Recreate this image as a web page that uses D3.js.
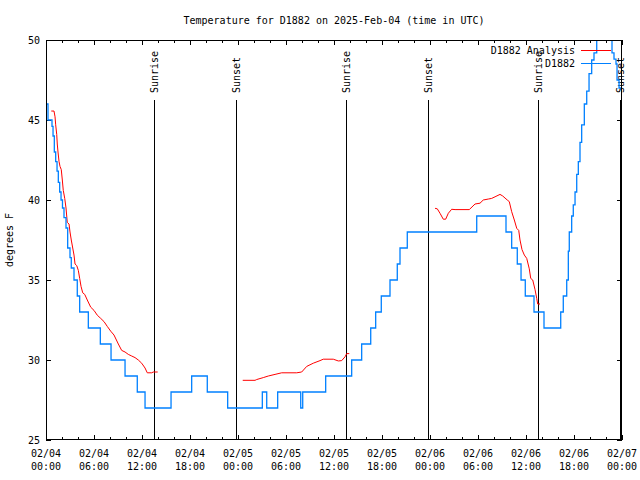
<!DOCTYPE html>
<html><head><meta charset="utf-8">
<script src="https://cdn.jsdelivr.net/npm/d3@7"></script>
<style>
body{margin:0;background:#fff}
svg{display:block}
text{font-family:"DejaVu Sans Mono",monospace;font-size:10px;fill:#000}
</style>
</head><body>
<svg id="c" width="640" height="480"></svg>
<script>
const chartTitle = "Temperature for D1882 on 2025-Feb-04 (time in UTC)";
const yLabel = "degrees F";
const startDate = "2025-02-04T00:00:00Z";
const spanHours = 72;
const yDomain = [25, 50];
const yTicks = [25, 30, 35, 40, 45, 50];

// D1882 observations: hours since 02/04 00:00 UTC, temperature (F)
const obsHours = [0.06,0.25,0.75,0.88,1.04,1.21,1.38,1.54,1.71,1.88,2.06,2.25,2.5,2.71,3.0,3.16,3.5,3.91,4.21,5.29,6.79,8.13,9.88,11.41,12.38,15.63,18.21,20.16,22.71,27.04,27.59,28.96,31.84,32.09,34.96,38.21,39.46,40.59,41.21,41.91,43.0,43.91,44.25,45.16,53.84,57.5,58.21,58.91,59.38,59.91,61.0,62.25,64.34,64.66,65.09,65.29,65.41,65.71,65.91,66.13,66.34,66.54,66.75,66.96,67.29,67.59,67.88,68.21,68.5,68.84,69.0,70.25,70.44,70.75,71.0,71.25,71.38,71.63,72];
const obsTemps = [46,45,44.6,44,43,42.4,41.8,41.1,40.5,40,39.5,38.9,38.25,37,36.4,35.75,35,34,33,32,31,30,29,28,27,28,29,28,27,28,27,28,27,28,29,30,31,32,33,34,35,36,37,38,39,38,37,36,35,34,33,32,33,34,35,36.8,38,39,39.7,40.5,41.6,42.4,43.6,44.7,46,46.8,47.9,48.75,49.2,50,50.6,50.6,50,49.2,48.8,48.5,47.5,47,47];

// D1882 Analysis (null = gap)
const anaHours = [0.66,1.0,1.13,1.21,1.34,1.41,1.5,1.63,1.75,1.91,2.04,2.16,2.34,2.5,2.66,2.88,3.0,3.16,3.34,3.5,3.63,3.84,4.04,4.21,4.38,4.59,4.84,5.16,5.59,6.0,6.41,6.84,7.25,7.66,8.09,8.5,9.04,9.46,9.88,10.29,10.71,11.13,11.54,11.96,12.38,12.66,13.21,13.41,13.96,
  null,
  24.59,26.13,26.34,27.16,27.79,28.63,29.46,31.34,31.96,32.59,33.41,34.25,34.66,35.91,36.54,36.96,37.38,37.59,37.91,
  null,
  48.63,48.91,49.25,49.66,49.96,50.29,50.71,51.13,52.91,53.63,54.25,54.66,55.29,55.71,56.13,56.75,57.09,57.66,57.91,58.21,58.54,58.84,59.09,59.25,59.5,59.79,60.09,60.41,60.59,60.84,61.13,61.34,61.46,61.75];
const anaTemps = [45.56,45.56,45.2,44.7,44.1,43.5,43.0,42.4,42.1,41.9,41.25,40.6,40.1,39.5,38.6,38.5,38.0,37.5,37.0,36.56,36.0,35.9,35.6,35.1,34.6,34.2,34.1,33.75,33.3,33.1,32.8,32.6,32.4,32.1,31.8,31.56,31.0,30.6,30.5,30.35,30.25,30.15,30.0,29.8,29.5,29.2,29.2,29.25,29.25,
  null,
  28.73,28.73,28.78,28.9,29.0,29.1,29.2,29.2,29.25,29.6,29.8,29.96,30.05,30.05,29.94,29.96,30.2,30.4,30.4,
  null,
  39.48,39.45,39.17,38.8,38.8,39.17,39.42,39.4,39.4,39.75,39.8,40.0,40.06,40.1,40.2,40.35,40.25,40.0,39.9,39.27,38.75,38.23,38.1,37.5,36.9,36.56,36.35,35.7,35.1,35.0,34.4,33.85,33.5,33.5];

const sunHours = [13.5, 23.75, 37.5, 47.75, 61.5, 71.75];
const sunLabels = ["Sunrise","Sunset","Sunrise","Sunset","Sunrise","Sunset"];
const seriesNames = ["D1882 Analysis", "D1882"];
const seriesColors = ["#ff0000", "#0080ff"];

const t0 = new Date(startDate).getTime();
const toDate = h => new Date(t0 + h * 3600e3);

const L = 46, R = 622, T = 40, B = 440;
const svg = d3.select("#c");
const x = d3.scaleUtc().domain([toDate(0), toDate(spanHours)]).range([L, R]);
const y = d3.scaleLinear().domain(yDomain).range([B, T]);

// title
svg.append("text").attr("x", (L + R) / 2).attr("y", 24).attr("text-anchor", "middle").text(chartTitle);

// axes ticks (inward, mirrored)
const minorT = d3.utcHour.every(2), majorT = d3.utcHour.every(6);
function tickAxis(axisFn, tr, ticks, size) {
  const g = svg.append("g").attr("transform", tr)
    .call(axisFn(x).ticks(ticks).tickSize(-size).tickFormat(""));
  g.select(".domain").remove();
  g.selectAll("line").attr("stroke", "#000").attr("shape-rendering", "crispEdges");
}
tickAxis(d3.axisBottom, `translate(0,${B})`, minorT, 3);
tickAxis(d3.axisBottom, `translate(0,${B})`, majorT, 5);
tickAxis(d3.axisTop, `translate(0,${T})`, minorT, 3);
tickAxis(d3.axisTop, `translate(0,${T})`, majorT, 5);

const yl = svg.append("g").attr("transform", `translate(${L},0)`)
  .call(d3.axisLeft(y).tickValues(yTicks).tickSize(-5).tickPadding(6));
yl.select(".domain").remove();
yl.selectAll("line").attr("stroke", "#000").attr("shape-rendering", "crispEdges");
yl.selectAll("text").attr("font-family", null).attr("font-size", null);
const yr = svg.append("g").attr("transform", `translate(${R},0)`)
  .call(d3.axisRight(y).tickValues(yTicks).tickSize(-5).tickFormat(""));
yr.select(".domain").remove();
yr.selectAll("line").attr("stroke", "#000").attr("shape-rendering", "crispEdges");

// x tick labels (two lines)
const fDay = d3.utcFormat("%m/%d"), fTime = d3.utcFormat("%H:%M");
const xl = svg.append("g");
x.ticks(majorT).forEach(d => {
  xl.append("text").attr("x", x(d)).attr("y", 457).attr("text-anchor", "middle").text(fDay(d));
  xl.append("text").attr("x", x(d)).attr("y", 470).attr("text-anchor", "middle").text(fTime(d));
});

// y label
svg.append("text").attr("transform", `translate(13,${(T + B) / 2}) rotate(-90)`)
  .attr("text-anchor", "middle").text(yLabel);

// clip
svg.append("clipPath").attr("id", "clip").append("rect")
  .attr("x", L).attr("y", T).attr("width", R - L).attr("height", B - T);

// sun lines
sunHours.forEach((h, i) => {
  const xs = Math.round(x(toDate(h))) + 0.5;
  svg.append("line").attr("x1", xs).attr("x2", xs).attr("y1", 100).attr("y2", B)
    .attr("stroke", "#000").attr("shape-rendering", "crispEdges");
  svg.append("text").attr("transform", `translate(${xs + 3.5},93) rotate(-90)`)
    .attr("text-anchor", "start").text(sunLabels[i]);
});

// series
const obs = obsHours.map((h, i) => [toDate(h), obsTemps[i]]);
const ana = anaHours.map((h, i) => [h === null ? null : toDate(h), anaTemps[i]]);
const plotG = svg.append("g").attr("clip-path", "url(#clip)");
plotG.append("path").datum(ana)
  .attr("d", d3.line().defined(d => d[0] !== null && d[1] !== null).x(d => x(d[0])).y(d => y(d[1])))
  .attr("fill", "none").attr("stroke", seriesColors[0]).attr("stroke-width", 1);
plotG.append("path").datum(obs)
  .attr("d", d3.line().curve(d3.curveStepAfter).x(d => x(d[0])).y(d => y(d[1])))
  .attr("fill", "none").attr("stroke", seriesColors[1]).attr("stroke-width", 1.3);

// border
svg.append("rect").attr("x", L + 0.5).attr("y", T + 0.5).attr("width", R - L - 1).attr("height", B - T - 1)
  .attr("fill", "none").attr("stroke", "#000").attr("shape-rendering", "crispEdges");

// legend
seriesNames.forEach((n, i) => {
  const ly = 50 + i * 13;
  svg.append("text").attr("x", 575).attr("y", ly + 3.5).attr("text-anchor", "end").text(n);
  svg.append("line").attr("x1", 581).attr("x2", 611).attr("y1", ly + 0.5).attr("y2", ly + 0.5)
    .attr("stroke", seriesColors[i]).attr("shape-rendering", "crispEdges");
});
</script>
</body></html>
